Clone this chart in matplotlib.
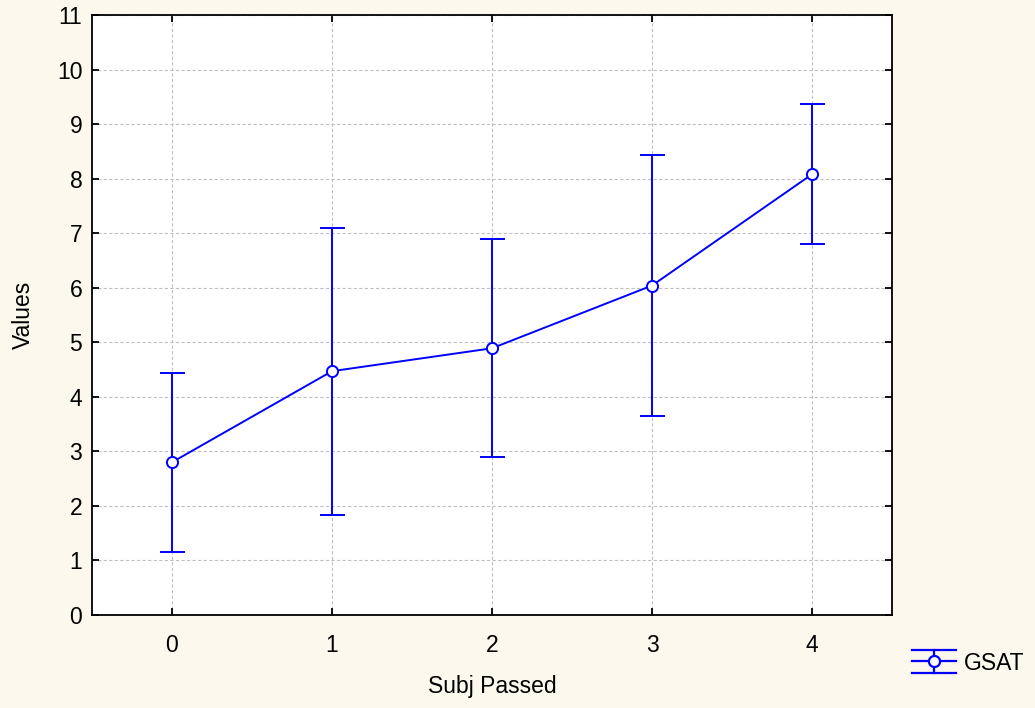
import matplotlib
matplotlib.use("Agg")
import matplotlib.pyplot as plt
from matplotlib.legend_handler import HandlerBase
from matplotlib.lines import Line2D

# Mean GSAT score by number of subjects passed, with error ranges
subj_passed = [0, 1, 2, 3, 4]
gsat_mean = [2.80, 4.47, 4.89, 6.04, 8.08]
gsat_err = [1.64, 2.63, 2.00, 2.40, 1.28]
y_ticks = list(range(0, 12))

plt.rcParams["font.family"] = ["Liberation Sans", "DejaVu Sans"]

blue = "#0000ff"
bg = "#fcf8ed"
fs = 16.5

fig = plt.figure(figsize=(10.35, 7.08), dpi=100, facecolor=bg)
ax = fig.add_axes([92 / 1035, 1 - 615 / 708, 800 / 1035, 600 / 708])
ax.set_facecolor("white")

eb = ax.errorbar(subj_passed, gsat_mean, yerr=gsat_err, color=blue,
                 lw=1.4, elinewidth=1.4, capsize=9, capthick=1.4,
                 marker="o", ms=8, mfc="white", mec=blue, mew=1.4,
                 label="GSAT", zorder=3)

ax.set_xlim(-0.5, 4.5)
ax.set_ylim(0, 11)
ax.set_xticks(subj_passed)
ax.set_yticks(y_ticks)
ax.grid(True, color="#c0c0c0", linestyle=(0, (3, 2)), linewidth=0.8)
ax.set_axisbelow(True)

for s in ax.spines.values():
    s.set_linewidth(1.3)
    s.set_color("black")

ax.tick_params(axis="both", which="major", labelsize=fs, length=5, width=1.3,
               direction="in", colors="black", top=True, right=True)
ax.tick_params(axis="x", pad=14)
ax.tick_params(axis="y", pad=7)

ax.set_xlabel("Subj Passed", fontsize=fs, labelpad=13)
ax.set_ylabel("Values", fontsize=fs, labelpad=16)


class ErrorBarKey(HandlerBase):
    """Legend key: a horizontal line with wide caps above and below and a marker."""

    def create_artists(self, legend, orig_handle, xdescent, ydescent,
                       width, height, fontsize, trans):
        cy = height / 2 - ydescent
        dy = 8.5
        x0, x1 = -xdescent, -xdescent + width
        xm = (x0 + x1) / 2
        kw = dict(color=blue, lw=1.6, transform=trans)
        arts = [
            Line2D([x0, x1], [cy, cy], **kw),
            Line2D([x0, x1], [cy + dy, cy + dy], **kw),
            Line2D([x0, x1], [cy - dy, cy - dy], **kw),
            Line2D([xm, xm], [cy - dy, cy + dy], **kw),
            Line2D([xm], [cy], marker="o", ms=8, mfc="white", mec=blue,
                   mew=1.6, transform=trans),
        ]
        return arts


fig.legend(handles=[eb], labels=["GSAT"], loc="center left",
           bbox_to_anchor=(912 / 1035, 1 - 663 / 708), frameon=False,
           fontsize=fs, handlelength=1.9, handletextpad=0.35,
           borderpad=0, borderaxespad=0,
           handler_map={type(eb): ErrorBarKey()})

fig.savefig("out.png", dpi=100, facecolor=bg)
